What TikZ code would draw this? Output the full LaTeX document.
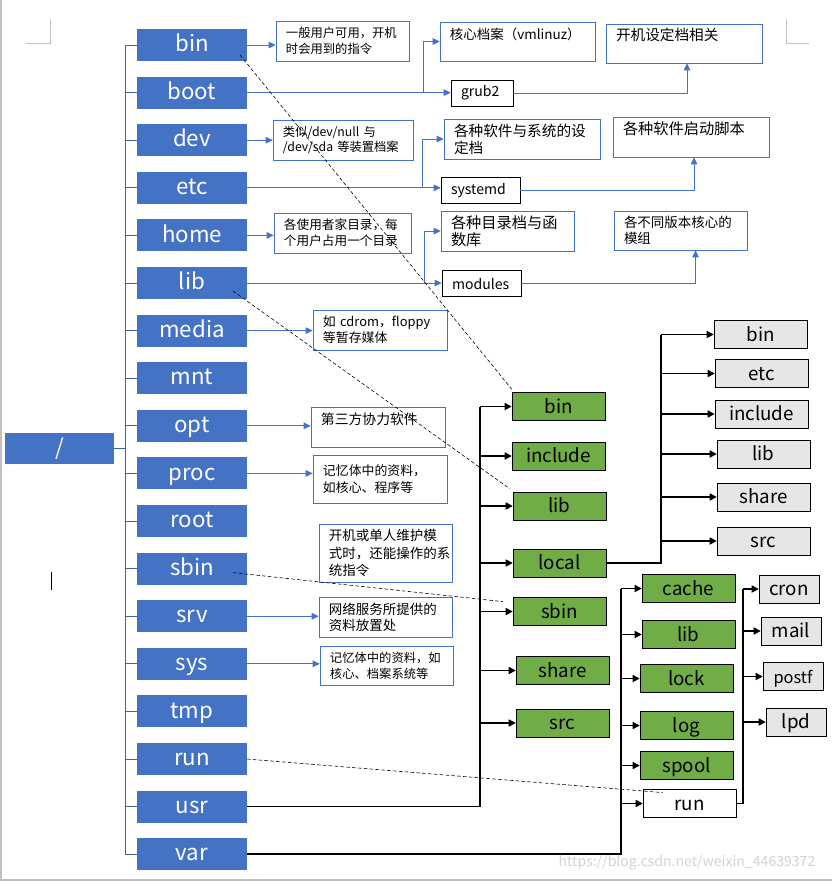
\documentclass[tikz,border=0pt]{standalone}
\usepackage{fontspec}
\setmainfont{Noto Sans CJK SC}
\usepackage{tikz}
\usetikzlibrary{positioning,arrows.meta}

\definecolor{dirblue}{HTML}{4472C4}
\definecolor{linkblue}{HTML}{4472C4}
\definecolor{trunkblue}{HTML}{3B63AC}
\definecolor{usrgreen}{HTML}{70AD47}
\definecolor{subgray}{HTML}{E7E6E6}
\definecolor{pagegray}{HTML}{C0C0C0}

\begin{document}
\begin{tikzpicture}[x=0.03cm, y=-0.03cm, node distance=0.468cm,
	dirbox/.style={fill=dirblue, text=white, minimum width=3.3cm, minimum height=0.96cm, inner sep=0pt, outer sep=0pt, text height=0.5cm, text depth=0.1cm, font=\fontsize{19}{20}\selectfont},
	notebox/.style={draw=linkblue, fill=white, align=left, inner xsep=0.3cm, inner ysep=0.05cm, font=\fontsize{10.5}{13.5}\selectfont},
	filebox/.style={draw=black, fill=white, align=left, inner xsep=0.3cm, inner ysep=0pt, minimum height=0.78cm, font=\fontsize{12}{14}\selectfont},
	usrbox/.style={draw=black, fill=usrgreen, minimum width=2.79cm, minimum height=0.84cm, inner sep=0pt, text height=0.45cm, text depth=0.05cm, font=\fontsize{16}{18}\selectfont},
	subbox/.style={usrbox, fill=subgray},
	linkline/.style={draw=linkblue, line width=0.8pt},
	linkarrow/.style={linkline, -{Triangle[length=6pt,width=5.5pt]}},
	branchline/.style={draw=trunkblue, line width=0.8pt},
	treeline/.style={draw=black, line width=1.3pt},
	treearrow/.style={treeline, -{Triangle[length=6pt,width=6pt]}},
	linkdash/.style={draw=black, line width=0.5pt, dash pattern=on 3pt off 2pt}]
	\useasboundingbox (0,0) rectangle (832,882);

	% edges of the page in the source
	\draw[pagegray, line width=1pt] (1,0) -- (1,880) -- (832,880);
	\draw[pagegray, line width=0.8pt] (26,43) -- (50,43) -- (50,19);
	\draw[pagegray, line width=0.8pt] (786,19) -- (786,43) -- (809,43);
	\draw[black, line width=0.6pt] (51,572) -- (51,590);

	% first level
	\node(rootdir)[dirbox, minimum width=3.27cm, minimum height=0.93cm] at (59.5,448.5) {/};
	\node(dbin)[dirbox] at (192,45) {bin};
	\node(dboot)[dirbox, below=of dbin] {boot};
	\node(ddev)[dirbox, below=of dboot] {dev};
	\node(detc)[dirbox, below=of ddev] {etc};
	\node(dhome)[dirbox, below=of detc] {home};
	\node(dlib)[dirbox, below=of dhome] {lib};
	\node(dmedia)[dirbox, below=of dlib] {media};
	\node(dmnt)[dirbox, below=of dmedia] {mnt};
	\node(dopt)[dirbox, below=of dmnt] {opt};
	\node(dproc)[dirbox, below=of dopt] {proc};
	\node(droot)[dirbox, below=of dproc] {root};
	\node(dsbin)[dirbox, below=of droot] {sbin};
	\node(dsrv)[dirbox, below=of dsbin] {srv};
	\node(dsys)[dirbox, below=of dsrv] {sys};
	\node(dtmp)[dirbox, below=of dsys] {tmp};
	\node(drun)[dirbox, below=of dtmp] {run};
	\node(dusr)[dirbox, below=of drun] {usr};
	\node(dvar)[dirbox, below=of dusr] {var};

	\coordinate(trunk) at (125,0);
	\draw[branchline, line width=1.2pt] (rootdir.east) -- (rootdir.east -| trunk);
	\draw[branchline] (trunk |- dbin.west) -- (trunk |- dvar.west);
	\draw[branchline] (trunk |- dbin.west) -- (dbin.west);
	\draw[branchline] (trunk |- dboot.west) -- (dboot.west);
	\draw[branchline] (trunk |- ddev.west) -- (ddev.west);
	\draw[branchline] (trunk |- detc.west) -- (detc.west);
	\draw[branchline] (trunk |- dhome.west) -- (dhome.west);
	\draw[branchline] (trunk |- dlib.west) -- (dlib.west);
	\draw[branchline] (trunk |- dmedia.west) -- (dmedia.west);
	\draw[branchline] (trunk |- dmnt.west) -- (dmnt.west);
	\draw[branchline] (trunk |- dopt.west) -- (dopt.west);
	\draw[branchline] (trunk |- dproc.west) -- (dproc.west);
	\draw[branchline] (trunk |- droot.west) -- (droot.west);
	\draw[branchline] (trunk |- dsbin.west) -- (dsbin.west);
	\draw[branchline] (trunk |- dsrv.west) -- (dsrv.west);
	\draw[branchline] (trunk |- dsys.west) -- (dsys.west);
	\draw[branchline] (trunk |- dtmp.west) -- (dtmp.west);
	\draw[branchline] (trunk |- drun.west) -- (drun.west);
	\draw[branchline] (trunk |- dusr.west) -- (dusr.west);
	\draw[branchline] (trunk |- dvar.west) -- (dvar.west);

	% notes next to the first level
	\node(nbin)[notebox, text width=3.39cm, minimum height=1.2cm] at (342.5,41) {一般用户可用，开机\\时会用到的指令};
	\node(ndev)[notebox, text width=3.6cm, minimum height=1.2cm] at (343,140) {类似/dev/null 与\\/dev/sda 等装置档案};
	\node(nhome)[notebox, text width=3.51cm, minimum height=1.2cm, font=\fontsize{10.8}{13.5}\selectfont] at (342.5,233) {各使用者家目录，每\\个用户占用一个目录};
	\node(nmedia)[notebox, text width=3.42cm, minimum height=1.2cm, font=\fontsize{11}{13.5}\selectfont] at (380,330) {如 cdrom，floppy\\等暂存媒体};
	\node(nopt)[notebox, text width=3.42cm, minimum height=1.2cm, font=\fontsize{11.8}{14}\selectfont] at (378,427) {第三方协力软件\\\mbox{}};
	\node(nproc)[notebox, text width=3.42cm, minimum height=1.44cm, font=\fontsize{11}{14}\selectfont] at (380,479) {记忆体中的资料，\\如核心、程序等};
	\node(nsbin)[notebox, text width=3.39cm, minimum height=1.74cm, font=\fontsize{11.5}{15}\selectfont] at (385.5,553) {开机或单人维护模\\式时，还能操作的系\\统指令};
	\node(nsrv)[notebox, text width=3.39cm, minimum height=1.2cm, font=\fontsize{11.5}{14}\selectfont] at (385.5,617) {网络服务所提供的\\资料放置处};
	\node(nsys)[notebox, text width=3.39cm, minimum height=1.17cm] at (386.5,665.5) {记忆体中的资料，如\\核心、档案系统等};

	\draw[linkarrow] (dbin.east) -- (dbin.east -| nbin.west);
	\draw[linkarrow] (ddev.east) -- (ddev.east -| ndev.west);
	\draw[linkarrow] (dhome.east) -- (dhome.east -| nhome.west);
	\draw[linkarrow] (dmedia.east) -- (dmedia.east -| nmedia.west);
	\draw[linkarrow] (dopt.east) -- (dopt.east -| nopt.west);
	\draw[linkarrow] (dproc.east) -- (dproc.east -| nproc.west);
	\draw[linkarrow] (dsrv.east) -- (dsrv.east -| nsrv.west);
	\draw[linkarrow] (dsys.east) -- (dsys.east -| nsys.west);

	% boot, etc and lib
	\node(nkernel)[notebox, text width=4.05cm, minimum height=1.17cm, font=\fontsize{11.5}{14}\selectfont] at (517.5,41.5) {核心档案（vmlinuz）\\\mbox{}};
	\node(grub2)[filebox, text width=1.26cm] at (482,93) {grub2};
	\node(nbootcfg)[notebox, text width=4.08cm, minimum height=1.17cm, font=\fontsize{12.5}{15}\selectfont] at (684,43.5) {开机设定档相关\\\mbox{}};

	\node(netccfg)[notebox, text width=4.08cm, minimum height=1.2cm, font=\fontsize{12.5}{14.5}\selectfont] at (522,139) {各种软件与系统的设\\定档};
	\node(systemd)[filebox, text width=1.77cm] at (480.5,190.5) {systemd};
	\node(nstartup)[notebox, text width=4.08cm, minimum height=1.2cm, font=\fontsize{13}{15.5}\selectfont] at (691,137) {各种软件启动脚本\\\mbox{}};

	\node(nlibs)[notebox, text width=3.39cm, minimum height=1.2cm, font=\fontsize{13}{14.5}\selectfont] at (507.5,231) {各种目录档与函\\数库};
	\node(modules)[filebox, text width=1.77cm] at (481.5,283.5) {modules};
	\node(nkmods)[notebox, text width=3.39cm, minimum height=1.17cm, font=\fontsize{11.5}{14}\selectfont] at (680.5,230.5) {各不同版本核心的\\模组};

	\coordinate(bootsplit) at (423,0);
	\draw[linkarrow] (dboot.east) -- (dboot.east -| grub2.west);
	\draw[linkarrow] (bootsplit |- dboot.east) |- (nkernel.west);
	\draw[linkarrow] (grub2.east) -| ([xshift=0.09cm]nbootcfg.south);

	\coordinate(etcsplit) at (422,0);
	\draw[linkarrow] (detc.east) -- (detc.east -| systemd.west);
	\draw[linkarrow] (etcsplit |- detc.east) |- (netccfg.west);
	\draw[linkarrow] (systemd.east) -| ([xshift=0.09cm]nstartup.south);

	\coordinate(libsplit) at (424,0);
	\draw[linkarrow] (dlib.east) -- (dlib.east -| modules.west);
	\draw[linkarrow] (libsplit |- dlib.east) |- (nlibs.west);
	\draw[linkarrow] (modules.east) -| ([xshift=0.45cm]nkmods.south);

	% usr
	\node(ubin)[usrbox] at (558.5,406.5) {bin};
	\node(uinclude)[usrbox] at (558.5,456) {include};
	\node(ulib)[usrbox] at (559.5,506) {lib};
	\node(ulocal)[usrbox] at (559.5,563) {local};
	\node(usbin)[usrbox] at (559.5,611.5) {sbin};
	\node(ushare)[usrbox] at (562.5,670.5) {share};
	\node(usrc)[usrbox] at (562.5,723) {src};

	\coordinate(usrtrunk) at (480,0);
	\draw[treeline] (dusr.east) -| (usrtrunk |- ubin.west);
	\draw[treearrow] (usrtrunk |- ubin.west) -- (ubin.west);
	\draw[treearrow] (usrtrunk |- uinclude.west) -- (uinclude.west);
	\draw[treearrow] (usrtrunk |- ulib.west) -- (ulib.west);
	\draw[treearrow] (usrtrunk |- ulocal.west) -- (ulocal.west);
	\draw[treearrow] (usrtrunk |- usbin.west) -- (usbin.west);
	\draw[treearrow] (usrtrunk |- ushare.west) -- (ushare.west);
	\draw[treearrow] (usrtrunk |- usrc.west) -- (usrc.west);

	% usr/local
	\node(lbin)[subbox] at (760.5,334.5) {bin};
	\node(letc)[subbox] at (761.5,373.5) {etc};
	\node(linclude)[subbox] at (761.5,414) {include};
	\node(llib)[subbox] at (763.5,454) {lib};
	\node(lshare)[subbox] at (763.5,497) {share};
	\node(lsrc)[subbox] at (763.5,541) {src};

	\coordinate(loctrunk) at (661,0);
	\draw[treeline] (ulocal.east) -| (loctrunk |- lbin.west);
	\draw[treearrow] (loctrunk |- lbin.west) -- (lbin.west);
	\draw[treearrow] (loctrunk |- letc.west) -- (letc.west);
	\draw[treearrow] (loctrunk |- linclude.west) -- (linclude.west);
	\draw[treearrow] (loctrunk |- llib.west) -- (llib.west);
	\draw[treearrow] (loctrunk |- lshare.west) -- (lshare.west);
	\draw[treearrow] (loctrunk |- lsrc.west) -- (lsrc.west);

	% var
	\node(vcache)[usrbox] at (688.5,588.5) {cache};
	\node(vlib)[usrbox] at (688.5,634.5) {lib};
	\node(vlock)[usrbox] at (686.5,678.5) {lock};
	\node(vlog)[usrbox] at (686.5,725.5) {log};
	\node(vspool)[usrbox] at (686.5,765.5) {spool};
	\node(vrun)[usrbox, fill=white] at (689.5,803.5) {run};

	\coordinate(vartrunk) at (621,0);
	\draw[treeline] (dvar.east) -| (vartrunk |- vcache.west);
	\draw[treearrow] (vartrunk |- vcache.west) -- (vcache.west);
	\draw[treearrow] (vartrunk |- vlib.west) -- (vlib.west);
	\draw[treearrow] (vartrunk |- vlock.west) -- (vlock.west);
	\draw[treearrow] (vartrunk |- vlog.west) -- (vlog.west);
	\draw[treearrow] (vartrunk |- vspool.west) -- (vspool.west);
	\draw[treearrow] (vartrunk |- vrun.west) -- (vrun.west);

	% var/run
	\node(rcron)[subbox, minimum width=1.8cm] at (789,589) {cron};
	\node(rmail)[subbox, minimum width=1.8cm] at (791,631) {mail};
	\node(rpostf)[subbox, minimum width=1.8cm, font=\fontsize{14}{16}\selectfont] at (793,676.5) {postf};
	\node(rlpd)[subbox, minimum width=1.8cm] at (796,722) {lpd};

	\coordinate(runtrunk) at (743,0);
	\draw[treeline] (vrun.east) -| (runtrunk |- rcron.west);
	\draw[treearrow] (runtrunk |- rcron.west) -- (rcron.west);
	\draw[treearrow] (runtrunk |- rmail.west) -- (rmail.west);
	\draw[treearrow] (runtrunk |- rpostf.west) -- (rpostf.west);
	\draw[treearrow] (runtrunk |- rlpd.west) -- (rlpd.west);

	% same directory in two places
	\draw[linkdash] ([xshift=-0.21cm,yshift=0.18cm]dbin.south east) -- ([yshift=0.09cm]ubin.north west);
	\draw[linkdash] ([xshift=-0.42cm,yshift=0.24cm]dlib.south east) -- ([xshift=-0.09cm,yshift=0.09cm]ulib.north west);
	\draw[linkdash] ([xshift=-0.42cm,yshift=-0.12cm]dsbin.east) -- ([xshift=-0.3cm,yshift=-0.13cm]usbin.north west);
	\draw[linkdash] (drun.east) -- ([xshift=0.6cm,yshift=-0.1cm]vrun.north west);

	\node(mark)[text=gray!35, font=\fontsize{12}{14}\selectfont] at (687,863) {https://blog.csdn.net/weixin\_44639372};
\end{tikzpicture}
\end{document}
